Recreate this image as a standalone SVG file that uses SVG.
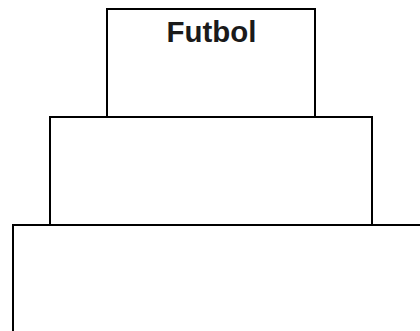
<svg xmlns="http://www.w3.org/2000/svg" width="420" height="331" viewBox="0 0 420 331">
<style>
.box{fill:#fff;stroke:#000;stroke-width:2}
.lbl{font-family:"Liberation Sans",Arial,sans-serif;font-weight:bold;font-size:29px;fill:#1a1a1a;text-anchor:middle}
</style>
<rect width="420" height="331" fill="#fff"/>
<g id="tier-top">
<rect class="box" x="107" y="9" width="208" height="108"/>
<text class="lbl" x="211.5" y="41.5" textLength="90" lengthAdjust="spacingAndGlyphs">Futbol</text>
</g>
<g id="tier-middle">
<rect class="box" x="50" y="117" width="322" height="108"/>
</g>
<g id="tier-bottom">
<rect class="box" x="13" y="225" width="420" height="120"/>
</g>
<g id="connectors"></g>
</svg>
